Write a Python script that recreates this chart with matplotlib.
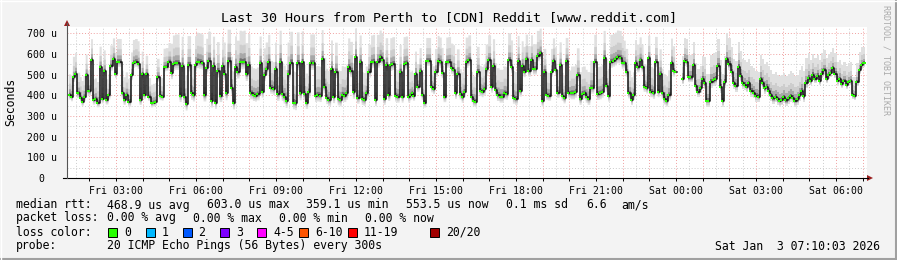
import numpy as np
import matplotlib
matplotlib.use('Agg')
import matplotlib.pyplot as plt
from matplotlib.ticker import MultipleLocator, FixedLocator
from matplotlib.patches import Polygon, Rectangle
from matplotlib.lines import Line2D

# time in hours since Fri 00:00, median rtt in microseconds (nan = no data)
hours = [
    1.24, 1.32, 1.39, 1.47, 1.54, 1.59, 1.66, 1.72, 1.79, 1.87, 1.94, 1.99, 2.07, 2.14, 2.22, 2.29,
    2.39, 2.47, 2.54, 2.62, 2.72, 2.79, 2.89, 2.97, 3.04, 3.12, 3.22, 3.29, 3.37, 3.46, 3.57, 3.64,
    3.72, 3.82, 3.89, 3.97, 4.04, 4.12, 4.21, 4.32, 4.39, 4.47, 4.54, 4.64, 4.72, 4.79, 4.87,
    4.97, 5.07, 5.14, 5.22, 5.29, 5.39, 5.47, 5.54, 5.62, 5.69, 5.82, 5.89, 5.97, 6.04, 6.12, 6.22,
    6.29, 6.39, 6.46, 6.57, 6.64, 6.72, 6.79, 6.89, 6.99, 7.04, 7.12, 7.19, 7.32, 7.39, 7.47, 7.54,
    7.64, 7.72, 7.79, 7.87, 7.96, 8.04, 8.14, 8.22, 8.29, 8.39, 8.47, 8.54, 8.62,
    8.71, 8.79, 8.89, 8.97, 9.04, 9.14, 9.22, 9.29, 9.37, 9.44, 9.54, 9.64, 9.72, 9.79, 9.89, 9.97,
    10.04, 10.12, 10.21, 10.29, 10.39, 10.47, 10.54, 10.64, 10.72, 10.79, 10.89, 10.96, 11.07, 11.14,
    11.22, 11.32, 11.39, 11.47, 11.54, 11.64, 11.71, 11.79, 11.89, 11.97, 12.04, 12.14, 12.22, 12.29, 12.37,
    12.47, 12.57, 12.64, 12.72, 12.79, 12.89, 12.97, 13.04, 13.12, 13.21, 13.29, 13.37, 13.47, 13.54,
    13.64, 13.72, 13.79, 13.87, 13.96, 14.04, 14.09, 14.14, 14.22, 14.29, 14.39, 14.47, 14.54, 14.64,
    14.71, 14.82, 14.89, 14.97, 15.07, 15.14, 15.22, 15.29, 15.39, 15.47, 15.57, 15.64, 15.72, 15.79,
    15.89, 15.97, 16.04, 16.12,
    16.22, 16.32, 16.39, 16.47, 16.54, 16.64, 16.72, 16.79, 16.87, 16.96, 17.07, 17.14, 17.22, 17.29,
    17.39, 17.47, 17.54, 17.64, 17.71, 17.82, 17.89, 17.97, 18.07, 18.14, 18.22, 18.29, 18.37, 18.46,
    18.57, 18.64, 18.72, 18.79, 18.89, 18.97, 19.04, 19.14, 19.21, 19.32, 19.39, 19.47, 19.54, 19.64,
    19.72, 19.79, 19.87,
    19.97, 20.07, 20.14, 20.22, 20.29, 20.39, 20.47, 20.54, 20.62, 20.69, 20.79, 20.87, 20.94, 21.04,
    21.14, 21.22, 21.29, 21.37, 21.46, 21.54, 21.64, 21.72, 21.79, 21.89, 21.97, 22.04, 22.12, 22.21,
    22.32, 22.39, 22.47, 22.54, 22.64, 22.72, 22.79, 22.89, 22.96, 23.04, 23.14, 23.22, 23.32, 23.39,
    23.47, 23.54, 23.62,
    23.71, 23.82, 23.89, 23.97, 24.05, 24.22, 24.29, 24.37, 24.44, 24.54, 24.64, 24.72, 24.79, 24.89,
    24.97, 25.04, 25.14, 25.21, 25.29, 25.39, 25.47, 25.54, 25.64, 25.72, 25.79, 25.87, 25.96, 26.07,
    26.14, 26.22, 26.32, 26.39, 26.47, 26.54, 26.64, 26.71, 26.79, 26.89, 26.97, 27.07, 27.14, 27.22,
    27.29, 27.37,
    27.45, 27.52, 27.60, 27.71, 27.79, 27.86, 27.94, 28.01, 28.09, 28.20, 28.27, 28.35, 28.42, 28.54,
    28.61, 28.69, 28.76, 28.84, 28.95, 29.02, 29.10, 29.17, 29.29, 29.36, 29.44, 29.51, 29.62, 29.70,
    29.77, 29.85, 29.92, 30.04, 30.11, 30.19, 30.26, 30.37, 30.45, 30.52, 30.60, 30.67, 30.75, 30.86,
    30.94, 31.01, 31.09,
]
median_us = [
    401, 393, 486, 505, 409, 409, 388, 369, 393, 497, 420, 420, 571, 377, 382, 364,
    535, 382, 517, 377, 401, 541, 575, 505, 562, 562, 409, 377, 401, 369, 497, 557,
    562, 551, 377, 501, 401, 501, 393, 361, 365, 369, 486, 396, 393, 535, 538,
    562, 509, 549, 554, 554, 398, 543, 393, 357, 546, 409, 401, 546, 562, 559, 554,
    401, 533, 567, 372, 543, 365, 517, 398, 543, 505, 409, 567, 436, 365, 535, 514,
    562, 559, 562, 502, 546, 409, 401, 398, 404, 554, 417, 497, 525,
    562, 436, 430, 525, 406, 562, 406, 393, 372, 505, 557, 365, 361, 554, 409, 559,
    406, 365, 417, 554, 554, 398, 401, 398, 575, 441, 388, 377, 525, 393,
    514, 382, 377, 401, 398, 409, 535, 518, 414, 583, 388, 559, 382, 377, 409,
    514, 559, 562, 377, 562, 583, 570, 382, 546, 401, 546, 551, 398, 393,
    514, 393, 551, 554, 393, 401, 409, 398, 501, 441, 518, 401, 365, 567,
    567, 438, 430, 514, 567, 559, 509, 393, 559, 562, 530, 522, 409, 502,
    406, 390, 417, 559,
    570, 393, 372, 369, 514, 422, 417, 428, 525, 570, 441, 541, 425, 401,
    393, 393, 409, 406, 570, 535, 388, 382, 567, 420, 541, 514, 573, 517,
    570, 527, 527, 591, 602, 372, 514, 401, 398, 514, 565, 522, 412, 546,
    398, 385, 567,
    409, 409, 409, 417, 497, 382, 406, 409, 393, 382, 436, 436, 562, 406,
    409, 417, 581, 446, 398, 562, 567, 573, 583, 581, 557, 554, 514, 409,
    377, 401, 557, 535, 570, 535, 441, 433, 578, 417, 409, 562, 417, 502,
    409, 382, 372,
    401, 554, 517, 514, np.nan, 478, 567, 562, 486, 486, 546, 444, 417, 433,
    481, 457, 372, 372, 465, 473, 477, 543, 441, 372, 462, 573, 549, 514,
    457, 444, 538, 494, 457, 452, 441, 457, 420, 412, 396, 393, 477, 457,
    433, 441,
    420, 400, 385, 392, 380, 372, 378, 390, 375, 385, 395, 388, 372, 380,
    400, 420, 395, 460, 485, 470, 500, 480, 495, 470, 505, 520, 480, 500,
    510, 530, 505, 470, 480, 455, 470, 450, 465, 470, 400, 396, 465, 521,
    545, 555, 555,
]
# how far the ping smoke reaches above the median, per hour (hour 1 .. 31)
spread_us = [100, 100, 110, 90, 140, 140, 150, 130, 150, 140, 140, 130, 130, 110, 120, 120,
             130, 120, 110, 130, 130, 110, 120, 110, 130, 120, 120, 120, 100, 90, 80]

tick_hours = [3, 6, 9, 12, 15, 18, 21, 24, 27, 30]
tick_labels = ['Fri 03:00', 'Fri 06:00', 'Fri 09:00', 'Fri 12:00', 'Fri 15:00',
               'Fri 18:00', 'Fri 21:00', 'Sat 00:00', 'Sat 03:00', 'Sat 06:00']
y_ticks = [0, 100, 200, 300, 400, 500, 600, 700]
y_labels = ['0  ', '100 u', '200 u', '300 u', '400 u', '500 u', '600 u', '700 u']

loss_labels = ['0', '1', '2', '3', '4-5', '6-10', '11-19', '20/20']
loss_colors = ['#26ff00', '#00b8ff', '#0059ff', '#7e00ff', '#ff00ff', '#ff5500', '#ff0000', '#a10000']

t_start, t_end = 1.1675, 31.1675

W, H = 897, 260
MONO = 'DejaVu Sans Mono'


def fx(x):
    return x / W


def fy(y):
    return 1 - y / H


fig = plt.figure(figsize=(W / 100, H / 100), dpi=100)
fig.patch.set_facecolor('#f3f3f3')

ax = fig.add_axes([fx(67), fy(178), 800 / W, 151 / H])
ax.set_facecolor('#ffffff')

t = np.array(hours)
med = np.array(median_us, dtype=float)
s = np.array([spread_us[int(h) - 1] for h in hours], dtype=float)

# smoke, light to dark
for up, dn, col in [(1.0, 0.22, '#e0e0e0'), (0.55, 0.15, '#cdcdcd'),
                    (0.28, 0.09, '#a8a8a8'), (0.11, 0.05, '#707070')]:
    ax.fill_between(t, med - dn * s, med + up * s, step='post', color=col, lw=0, zorder=2)

ax.step(t, med, where='post', color='#111111', lw=1.1, zorder=3)
ax.plot(t, med, 's', ms=1.9, mew=0, color=loss_colors[0], zorder=4)

ax.set_xlim(t_start, t_end)
ax.set_ylim(0, 730)

ax.xaxis.set_minor_locator(FixedLocator(np.arange(1.5, 31.5, 1.0)))
ax.set_xticks(np.arange(2, 32))
ax.set_xticklabels([tick_labels[tick_hours.index(h)] if h in tick_hours else '' for h in range(2, 32)],
                   fontfamily=MONO, fontsize=7.1)
ax.yaxis.set_major_locator(FixedLocator(y_ticks))
ax.yaxis.set_minor_locator(MultipleLocator(50))
ax.set_yticklabels(y_labels, fontfamily=MONO, fontsize=7.1)

ax.grid(which='major', color='#f0a0a0', lw=0.7, ls=(0, (1, 2)), zorder=1)
ax.grid(which='minor', color='#cccccc', lw=0.7, ls=(0, (1, 2)), zorder=1)
ax.set_axisbelow(True)
ax.tick_params(axis='x', which='major', length=2, width=0.7, pad=4, colors='black')
ax.tick_params(axis='x', which='minor', length=0)
ax.tick_params(axis='y', which='both', length=0, pad=7)
for sp in ax.spines.values():
    sp.set_visible(False)

# axis lines and arrows
fig.add_artist(Line2D([fx(63), fx(868)], [fy(178), fy(178)], color='black', lw=0.8))
fig.add_artist(Line2D([fx(67), fx(67)], [fy(178), fy(23)], color='#555555', lw=0.8))
fig.add_artist(Polygon([[fx(867), fy(175)], [fx(873), fy(178)], [fx(867), fy(181)]],
                       closed=True, color='#9a1e1e', lw=0))
fig.add_artist(Polygon([[fx(64), fy(26)], [fx(67), fy(20)], [fx(70), fy(26)]],
                       closed=True, color='#9a1e1e', lw=0))

# frame
fig.add_artist(Line2D([0, 1], [fy(259), fy(259)], color='#a0a0a0', lw=1.5))
fig.add_artist(Line2D([fx(896), fx(896)], [0, 1], color='#a0a0a0', lw=1.5))
fig.add_artist(Line2D([0, 1], [fy(0.5), fy(0.5)], color='#ffffff', lw=1))
fig.add_artist(Line2D([fx(0.5), fx(0.5)], [0, 1], color='#ffffff', lw=1))

fig.text(fx(448.5), fy(18), 'Last 30 Hours from Perth to [CDN] Reddit [www.reddit.com]',
         ha='center', va='center', fontfamily=MONO, fontsize=9.6)
fig.text(fx(11), fy(102), 'Seconds', rotation=90, ha='center', va='center',
         fontfamily=MONO, fontsize=8.3)
fig.text(fx(886), fy(5), 'RRDTOOL / TOBI OETIKER', rotation=270, ha='center', va='top',
         fontfamily=MONO, fontsize=6, color='#aaaaaa')

leg = dict(fontfamily=MONO, fontsize=8.3, va='center', ha='left')
fig.text(fx(16), fy(205), 'median rtt:', **leg)
for x, txt in [(107, '468.9 us avg'), (207, '603.0 us max'), (306, '359.1 us min'),
               (406, '553.5 us now'), (506, '0.1 ms sd'), (586, '6.6'), (621, 'am/s')]:
    fig.text(fx(x), fy(205), txt, **leg)
fig.text(fx(16), fy(218), 'packet loss:', **leg)
for x, txt in [(107, '0.00 % avg'), (193, '0.00 % max'), (279, '0.00 % min'), (365, '0.00 % now')]:
    fig.text(fx(x), fy(218), txt, **leg)
fig.text(fx(16), fy(232), 'loss color:', **leg)
box_x = [108, 145.5, 182.5, 220, 257, 299, 348, 430]
for bx, lab, col in zip(box_x, loss_labels, loss_colors):
    fig.add_artist(Rectangle((fx(bx), fy(237)), 9 / W, 9 / H, facecolor=col,
                             edgecolor='black', lw=0.7))
    fig.text(fx(bx + 16), fy(232), lab, **leg)
fig.text(fx(16), fy(246), 'probe:', **leg)
fig.text(fx(107), fy(246), '20 ICMP Echo Pings (56 Bytes) every 300s', **leg)
fig.text(fx(880), fy(246), 'Sat Jan  3 07:10:03 2026', fontfamily=MONO, fontsize=8.3,
         va='center', ha='right')

fig.savefig('out.png', dpi=100)
